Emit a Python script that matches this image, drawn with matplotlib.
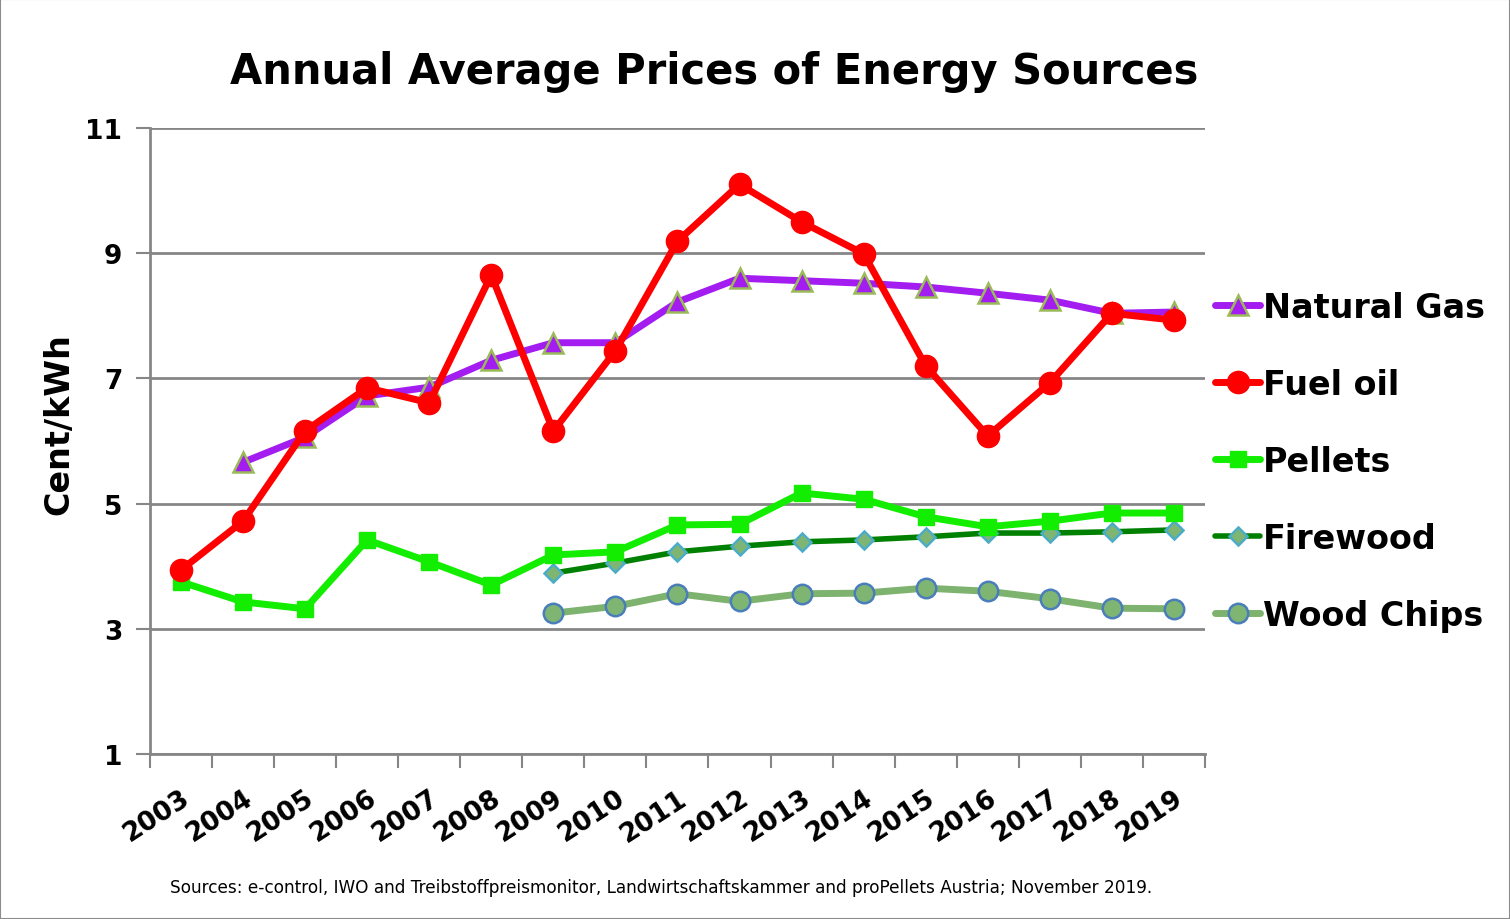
import numpy as np
import matplotlib
matplotlib.use('Agg')
import matplotlib.pyplot as plt
from matplotlib.patches import Rectangle

years = [str(y) for y in range(2003, 2020)]

# Cent/kWh; None = no value
natural_gas = [None, 5.66, 6.06, 6.72, 6.86, 7.29, 7.57, 7.57, 8.22, 8.60,
               8.56, 8.52, 8.46, 8.36, 8.25, 8.04, 8.06]
fuel_oil = [3.94, 4.72, 6.16, 6.85, 6.61, 8.65, 6.16, 7.44, 9.19, 10.10,
            9.50, 8.99, 7.20, 6.08, 6.93, 8.04, 7.93]
pellets = [3.75, 3.43, 3.32, 4.42, 4.07, 3.70, 4.18, 4.23, 4.66, 4.67,
           5.17, 5.07, 4.79, 4.63, 4.72, 4.85, 4.85]
firewood = [None] * 6 + [3.89, 4.05, 4.23, 4.32, 4.39, 4.42, 4.47, 4.53,
                         4.53, 4.55, 4.58]
wood_chips = [None] * 6 + [3.25, 3.36, 3.56, 3.44, 3.56, 3.57, 3.65, 3.60,
                           3.48, 3.33, 3.32]

y_ticks = [1, 3, 5, 7, 9, 11]

GRID = '#868686'


def arr(v):
    return np.array([np.nan if a is None else a for a in v], dtype=float)


fig = plt.figure(figsize=(15.1, 9.2), dpi=100)
fig.patches.append(Rectangle((0, 0), 1, 1, transform=fig.transFigure,
                             fill=False, edgecolor='#8c8c8c', lw=1.5))
ax = fig.add_axes([0.0993, 0.1793, 0.6987, 0.6805])

x = np.arange(len(years))
series = [
    ('Natural Gas', natural_gas, dict(color='#a31cf0', lw=5, marker='^', ms=14,
                                      mfc='#a31cf0', mec='#9bbb59', mew=1.8)),
    ('Fuel oil', fuel_oil, dict(color='#ff0000', lw=5, marker='o', ms=16,
                                mfc='#ff0000', mec='#ff0000')),
    ('Pellets', pellets, dict(color='#13ee00', lw=5, marker='s', ms=11,
                              mfc='#13ee00', mec='#13ee00')),
    ('Firewood', firewood, dict(color='#008000', lw=4, marker='D', ms=9,
                                mfc='#7fb573', mec='#4bacc6', mew=1.8)),
    ('Wood Chips', wood_chips, dict(color='#7db36f', lw=5, marker='o', ms=14,
                                    mfc='#7fb573', mec='#4a7ebb', mew=1.8)),
]
for i, (name, vals, st) in enumerate(series):
    ax.plot(x, arr(vals), label=name, zorder=5 - i * 0.1 if i != 1 else 6,
            solid_capstyle='round', **st)

ax.set_xlim(-0.5, len(years) - 0.5)
ax.set_ylim(1, 11)
ax.set_yticks(y_ticks)
ax.set_yticklabels([str(t) for t in y_ticks], fontsize=19, fontweight='bold')
ax.yaxis.grid(True, color=GRID, lw=2)
ax.set_axisbelow(True)

ax.set_xticks(np.arange(-0.5, len(years), 1.0))
ax.set_xticklabels([])
ax.set_xticks(x, minor=True)
ax.set_xticklabels(years, minor=True, rotation=33, ha='right', va='top',
                   rotation_mode='anchor', fontsize=19, fontweight='bold')
ax.tick_params(axis='x', which='minor', length=0, pad=22)
ax.tick_params(axis='x', which='major', length=10, width=1.5, color=GRID)
ax.tick_params(axis='y', length=10, width=1.5, color=GRID, pad=10)

for s in ['top', 'right']:
    ax.spines[s].set_visible(False)
ax.spines['left'].set_color(GRID)
ax.spines['left'].set_linewidth(2)
ax.spines['bottom'].set_color(GRID)
ax.spines['bottom'].set_linewidth(2)

ax.set_ylabel('Cent/kWh', fontsize=24, fontweight='bold')
ax.yaxis.set_label_coords(-0.071, 0.529)

fig.text(0.473, 0.922, 'Annual Average Prices of Energy Sources',
         ha='center', va='center', fontsize=30, fontweight='bold')

ax.legend(loc='center left', bbox_to_anchor=(1.0095, 0.468), frameon=False,
          handlelength=1.35, handletextpad=0.1,
          labelspacing=1.32, borderaxespad=0, borderpad=0,
          prop=dict(weight='bold', size=24))

fig.text(0.438, 0.035,
         'Sources: e-control, IWO and Treibstoffpreismonitor, Landwirtschaftskammer '
         'and proPellets Austria; November 2019.',
         ha='center', va='center', fontsize=12.2)

fig.savefig('out.png', dpi=100)
